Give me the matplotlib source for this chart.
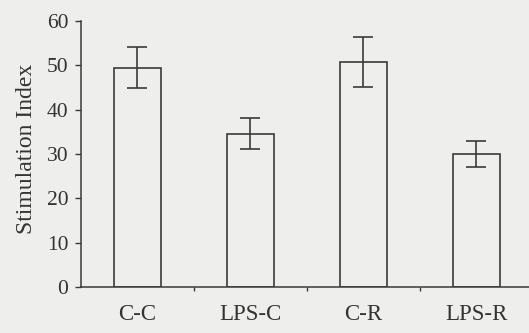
import matplotlib as mpl
mpl.use('agg')
import matplotlib.pyplot as plt
import numpy as np

groups = ['C-C', 'LPS-C', 'C-R', 'LPS-R']
means = [49.5, 34.6, 50.8, 30.0]
errors = [4.6, 3.5, 5.6, 3.0]
yticks = [0, 10, 20, 30, 40, 50, 60]

plt.rc('font', family='Liberation Serif')
ink = '#3a3a3a'
bg = '#eeeeec'

fig = plt.figure(figsize=(5.29, 3.33), dpi=100, facecolor=bg)
ax = fig.add_axes([0.1531, 0.1381, 0.8544, 0.7988])
ax.set_facecolor(bg)

x = np.arange(len(groups))
ax.bar(x, means, width=0.415, facecolor='none', edgecolor=ink, linewidth=1.2)
ax.errorbar(x, means, yerr=errors, fmt='none', ecolor=ink, elinewidth=1.2,
            capsize=7, capthick=1.2)

ax.set_xlim(-0.5, 3.5)
ax.set_ylim(0, 60)
ax.set_yticks(yticks)
ax.tick_params(axis='y', direction='out', length=4, width=1, color=ink,
               labelsize=15.5, labelcolor='#333333', pad=5)

# category labels, ticks only at the boundaries
ax.set_xticks(x)
ax.set_xticklabels(groups)
ax.tick_params(axis='x', which='major', length=0, labelsize=16.5,
               labelcolor='#333333', pad=12)
ax.set_xticks([0.5, 1.5, 2.5], minor=True)
ax.tick_params(axis='x', which='minor', direction='out', length=3, width=1,
               color=ink)

ax.set_ylabel('Stimulation Index', fontsize=17, color='#333333')
ax.yaxis.set_label_coords(-0.097, 0.52)

for s in ['top', 'right']:
    ax.spines[s].set_visible(False)
for s in ['left', 'bottom']:
    ax.spines[s].set_color(ink)
    ax.spines[s].set_linewidth(1.1)

plt.savefig('out.png', dpi=100, facecolor=bg)
